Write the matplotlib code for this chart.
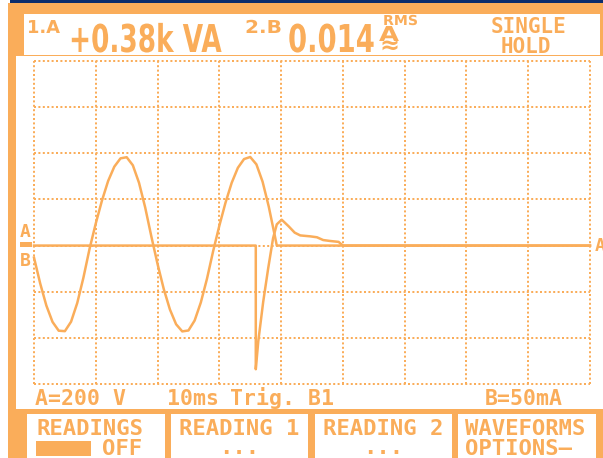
import matplotlib
matplotlib.use("Agg")
import matplotlib.pyplot as plt
from matplotlib.patches import Rectangle
from matplotlib.patheffects import AbstractPathEffect
from matplotlib.transforms import Affine2D

# ---------------- data ----------------
# trace A: voltage (V), 200 V/div, time in ms (10 ms/div)
t_a = [0, 1, 2, 3, 4, 5, 6, 7, 8, 9, 10, 11, 12, 13, 14, 15, 16, 17, 18, 19,
       20, 21, 22, 23, 24, 25, 26, 27, 28, 29, 30, 31, 32, 33, 34, 35, 36, 37, 38, 39,
       39.3, 90]
v_a = [-52, -164, -260, -331, -369, -371, -330, -249, -139, -13,
       96, 195, 280, 342, 378, 383, 348, 272, 165, 39,
       -80, -188, -277, -341, -372, -368, -325, -247, -144, -24,
       86, 186, 272, 337, 375, 384, 352, 277, 169, 40,
       0, 0]
# trace B: current (mA), 50 mA/div
t_b = [0, 35.9, 35.9, 36.3, 37.1, 37.9, 38.7, 39.3, 40.1, 41.2, 42.2, 43.1,
       44.7, 45.8, 46.8, 47.9, 49.3, 50.0, 90]
i_b = [0, 0, -134, -104, -61, -25, 8, 23, 28, 21, 14, 11,
       10, 9, 6, 5, 4, 0, 0]

time_ticks = [0, 10, 20, 30, 40, 50, 60, 70, 80, 90]
volt_ticks = [-600, -400, -200, 0, 200, 400, 600, 800]

header_left = ["1.A", "+0.38k VA"]
header_mid = ["2.B", "0.014", "A", "\u2248", "RMS"]
header_right = ["SINGLE", "HOLD"]
status = ["A=200 V", "10ms", "Trig. B1", "B=50mA"]
buttons = [("READINGS", "OFF"), ("READING 1", "..."), ("READING 2", "..."),
           ("WAVEFORMS", "OPTIONS\u2014")]

ORANGE = "#FAAD5A"
NAVY = "#0B2D6C"
SANS = ["DejaVu Sans"]
MONO = ["DejaVu Sans Mono", "DejaVu Sans"]

W, H = 603, 458
fig = plt.figure(figsize=(W / 100, H / 100), dpi=100)
fig.patch.set_facecolor("white")


class Stretch(AbstractPathEffect):
    """Scale a text's glyphs vertically around its baseline."""
    def __init__(self, sy, y0):
        super().__init__()
        self.sy, self.y0 = sy, y0

    def draw_path(self, renderer, gc, tpath, affine, rgbFace=None):
        a = affine + Affine2D().translate(0, -self.y0).scale(1, self.sy).translate(0, self.y0)
        renderer.draw_path(gc, tpath, a, rgbFace)


# background / frame in pixel coordinates
bg = fig.add_axes([0, 0, 1, 1])
bg.set_xlim(0, W)
bg.set_ylim(H, 0)
bg.axis("off")


def rect(x0, y0, x1, y1, color):
    bg.add_patch(Rectangle((x0, y0), x1 - x0, y1 - y0, facecolor=color,
                           edgecolor="none", lw=0))


def fit_text(s, x_left, x_right, baseline, cap=None, family=SANS):
    """Width fitted by font size, height by a vertical stretch."""
    t = bg.text(x_left, baseline, s, family=family, weight="bold", size=20,
                color=ORANGE, va="baseline", ha="left")
    fig.canvas.draw()
    bb = t.get_window_extent(renderer=fig.canvas.get_renderer())
    size = 20 * (x_right - x_left) / bb.width
    t.set_fontsize(size)
    if cap is not None:
        cap_now = 0.73 * size * 100 / 72
        y0 = bg.transData.transform((x_left, baseline))[1]
        t.set_path_effects([Stretch(cap / cap_now, y0)])
    return t


def txt(s, x, y, size, ha="left", family=MONO):
    return bg.text(x, y, s, family=family, weight="bold", size=size,
                   color=ORANGE, va="baseline", ha=ha)


rect(10, 0, W, 3, NAVY)
rect(8, 3, W, H, ORANGE)
rect(24, 14, 600, 55, "white")          # header box
rect(16, 56, W, 409, "white")          # screen
box_x = [(27, 165), (171, 308), (315, 452), (458, 596)]
for x0, x1 in box_x:
    rect(x0, 414, x1, H, "white")

# header texts
fit_text(header_left[0], 27, 60, 33, cap=13)
fit_text(header_left[1], 69, 222, 52, cap=28)
fit_text(header_mid[0], 245, 282, 33, cap=13)
fit_text(header_mid[1], 288, 375, 52, cap=28)
fit_text(header_mid[2], 379, 399, 41, cap=15)
fit_text(header_mid[3], 379, 399, 53)
fit_text(header_mid[4], 383, 418, 25, cap=10)
txt(header_right[0], 528, 33, 15, ha="center")
txt(header_right[1], 526, 53, 15, ha="center")

# status line
for s, x in zip(status, [35, 167, 230, 485]):
    txt(s, x, 405, 15.5)

# buttons
for (top, bot), (x0, x1) in zip(buttons, box_x):
    if top == "READINGS":
        txt(top, x0 + 10, 435, 16)
        rect(x0 + 9, 441, x0 + 64, 456, ORANGE)
        txt(bot, x0 + 75, 455, 16)
    elif bot == "...":
        txt(top, (x0 + x1) / 2, 435, 16, ha="center")
        txt(bot, (x0 + x1) / 2, 454, 16, ha="center")
    else:
        txt(top, x0 + 7, 435, 16)
        txt(bot, x0 + 7, 455, 16)

# A / B markers
txt("A", 20, 237, 13)
rect(20, 242, 32, 247, ORANGE)
txt("B", 20, 266, 13)
txt("A", 595, 251, 13)

# ---------------- scope screen ----------------
x0p, x1p, y0p, y1p = 34, 590, 61, 384
ax = fig.add_axes([x0p / W, 1 - y1p / H, (x1p - x0p) / W, (y1p - y0p) / H])
ax.set_facecolor("none")
ax.set_xlim(0, 90)
ax.set_ylim(-600, 800)
for sp in ax.spines.values():
    sp.set_visible(False)
ax.set_xticks(time_ticks)
ax.set_yticks(volt_ticks)
ax.tick_params(length=0, labelbottom=False, labelleft=False)
ax.grid(True, color=ORANGE, lw=1.44, linestyle=(0, (1, 1.2)))
for gl in ax.get_xgridlines() + ax.get_ygridlines():
    gl.set_clip_on(False)
    gl.set_dash_capstyle("butt")

ax.plot(t_a, v_a, color=ORANGE, lw=1.8, solid_joinstyle="round", clip_on=False)

axb = ax.twinx()
axb.set_ylim(-150, 200)
axb.axis("off")
axb.plot(t_b, i_b, color=ORANGE, lw=1.8, solid_joinstyle="round", clip_on=False)

fig.savefig("out.png", dpi=100, facecolor="white")
